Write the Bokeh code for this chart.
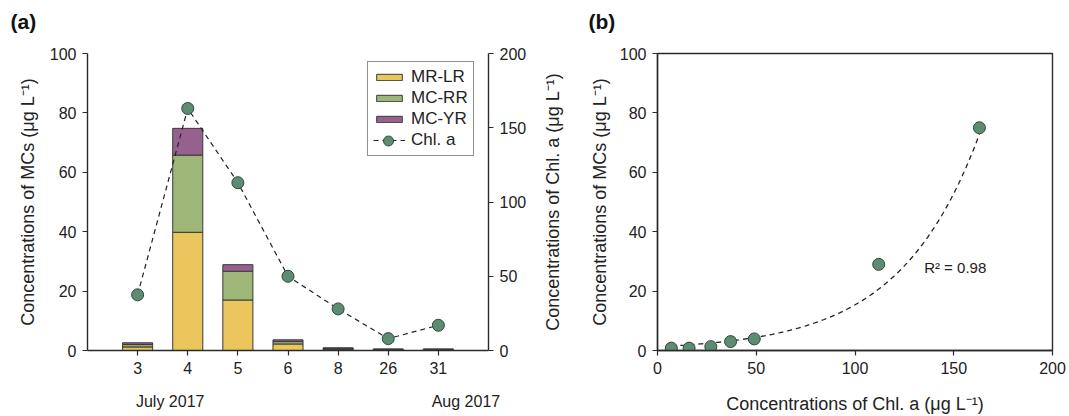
import math
import numpy as np
from bokeh.plotting import figure
from bokeh.models import (Range1d, LinearAxis, FixedTicker, Legend, LegendItem,
                          Label, Title, ColumnDataSource)
from bokeh.layouts import row
from bokeh.embed import file_html
from bokeh.resources import INLINE

# ---------------- data ----------------
dates = ["3", "4", "5", "6", "8", "26", "31"]
mc_lr = [1.2, 39.8, 17.0, 2.2, 0.4, 0.2, 0.2]
mc_rr = [0.8, 26.0, 9.7, 0.8, 0.3, 0.2, 0.2]
mc_yr = [0.6, 9.0, 2.2, 0.6, 0.2, 0.1, 0.1]
chl_a = [37.5, 163.0, 113.0, 50.0, 28.0, 8.0, 17.0]
months = ["July 2017", "Aug 2017"]
month_pos = [1.65, 7.55]
series_names = ["MR-LR", "MC-RR", "MC-YR"]

scatter_chl = [7, 16, 27, 37, 49, 112, 163]
scatter_mc = [0.8, 0.8, 1.3, 3.0, 3.9, 29.0, 75.0]
fit_a, fit_b = 1.3, 0.0247
r2_text = "R² = 0.98"

# ---------------- style ----------------
FONT = "Liberation Sans"
TXT = "#222222"
AX = "#2b2b2b"
C_LR, C_RR, C_YR = "#EAC65C", "#9EB677", "#96618F"
C_PT, C_PT_LINE = "#5E8B74", "#2E4A3C"


def style_axis(ax, label_standoff):
    ax.axis_line_color = AX
    ax.axis_line_width = 1.4
    ax.major_tick_line_color = AX
    ax.major_tick_line_width = 1.2
    ax.major_tick_out = 5
    ax.major_tick_in = 0
    ax.minor_tick_line_color = None
    ax.major_label_text_font = FONT
    ax.major_label_text_font_size = "16px"
    ax.major_label_text_color = TXT
    ax.major_label_standoff = 6
    ax.axis_label_text_font = FONT
    ax.axis_label_text_font_size = "18px"
    ax.axis_label_text_font_style = "normal"
    ax.axis_label_text_color = TXT
    ax.axis_label_standoff = label_standoff


def bare_axis(ax):
    ax.axis_line_color = None
    ax.major_tick_line_color = None
    ax.minor_tick_line_color = None


def panel_tag(p, text, offset):
    # tag as the plot title, with a blank spacer title between it and the frame
    p.title.text = text
    p.title.align = "left"
    p.title.offset = offset
    p.title.standoff = 0
    p.title.text_font = FONT
    p.title.text_font_size = "21px"
    p.title.text_font_style = "bold"
    p.title.text_color = "#111111"
    spacer = Title(text=" ", standoff=0, text_font=FONT, text_font_size="17px")
    p.add_layout(spacer, "above")


# ---------------- panel (a) ----------------
xs = list(range(1, len(dates) + 1))
src = ColumnDataSource(dict(x=xs, lr=mc_lr, rr=mc_rr, yr=mc_yr))

pa = figure(width=537, height=416, x_range=Range1d(0, 8), y_range=Range1d(0, 100),
            output_backend="svg", toolbar_location=None,
            min_border_left=87, min_border_right=49, min_border_top=53,
            min_border_bottom=64)
pa.extra_y_ranges = {"chl": Range1d(0, 200)}
pa.xgrid.visible = False
pa.ygrid.visible = False
pa.outline_line_color = None
panel_tag(pa, "(a)", -77)

bars = pa.vbar_stack(["lr", "rr", "yr"], x="x", width=0.6, source=src,
                     fill_color=[C_LR, C_RR, C_YR], line_color="#3a3a3a",
                     line_width=1)
chl_line = pa.line(xs, chl_a, y_range_name="chl", line_dash="5 4",
                   line_color="#222222", line_width=1.2)
chl_pts = pa.scatter(xs, chl_a, y_range_name="chl", size=12, fill_color=C_PT,
                     line_color=C_PT_LINE, line_width=1)

pa.xaxis.ticker = FixedTicker(ticks=xs)
pa.xaxis.major_label_overrides = {x: d for x, d in zip(xs, dates)}
pa.yaxis.ticker = FixedTicker(ticks=[0, 20, 40, 60, 80, 100])
pa.yaxis.axis_label = "Concentrations of MCs (μg L⁻¹)"
style_axis(pa.xaxis[0], 0)
style_axis(pa.yaxis[0], 9)

right_ax = LinearAxis(y_range_name="chl", ticker=FixedTicker(ticks=[0, 50, 100, 150, 200]))
style_axis(right_ax, 12)
pa.add_layout(right_ax, "right")

# month captions: a second, bare date axis under the first one
month_ax = LinearAxis(ticker=FixedTicker(ticks=month_pos),
                      major_label_overrides={m_x: m for m_x, m in zip(month_pos, months)})
style_axis(month_ax, 0)
bare_axis(month_ax)
month_ax.major_tick_out = 0
month_ax.major_label_standoff = 16
pa.add_layout(month_ax, "below")

# legend (bars + dashed line), with a second legend overlaying the marker
leg_a = Legend(items=[LegendItem(label=n, renderers=[r]) for n, r in zip(series_names, bars)]
                     + [LegendItem(label="Chl. a", renderers=[chl_line])],
               location=(280, 194), glyph_width=32, glyph_height=8,
               label_height=18, label_standoff=6, spacing=1, padding=5,
               label_text_font=FONT, label_text_font_size="17px",
               label_text_color=TXT, border_line_color="#222222",
               border_line_width=1.2, background_fill_color="white",
               background_fill_alpha=1.0, margin=0)
pa.add_layout(leg_a, "center")
leg_b = Legend(items=[LegendItem(label=" ", renderers=[chl_pts])],
               location=(285, 197), glyph_width=32, glyph_height=25,
               label_height=10, label_width=1, label_standoff=0, spacing=0, padding=0,
               label_text_font_size="1px", border_line_color=None,
               background_fill_alpha=0.0, margin=0)
pa.add_layout(leg_b, "center")

# ---------------- panel (b) ----------------
pb = figure(width=532, height=416, x_range=Range1d(0, 200), y_range=Range1d(0, 100),
            output_backend="svg", toolbar_location=None,
            min_border_left=120, min_border_right=17, min_border_top=53,
            min_border_bottom=64)
pb.xgrid.visible = False
pb.ygrid.visible = False
pb.outline_line_color = AX
pb.outline_line_width = 1.4
panel_tag(pb, "(b)", -69)

fx = np.linspace(min(scatter_chl), max(scatter_chl), 120)
pb.line(fx, fit_a * np.exp(fit_b * fx), line_dash="5 4", line_color="#222222",
        line_width=1.3)
pb.scatter(scatter_chl, scatter_mc, size=12, fill_color=C_PT, line_color=C_PT_LINE,
           line_width=1)

pb.xaxis.ticker = FixedTicker(ticks=[0, 50, 100, 150, 200])
pb.yaxis.ticker = FixedTicker(ticks=[0, 20, 40, 60, 80, 100])
pb.xaxis.axis_label = "Concentrations of Chl. a (μg L⁻¹)"
pb.yaxis.axis_label = "Concentrations of MCs (μg L⁻¹)"
style_axis(pb.xaxis[0], 17)
style_axis(pb.yaxis[0], 7)

# title of panel (a)'s right-hand Chl. a axis, reading bottom to top
chl_title_ax = LinearAxis(ticker=FixedTicker(ticks=[]),
                          axis_label="Concentrations of Chl. a (μg L⁻¹)")
style_axis(chl_title_ax, 24)
bare_axis(chl_title_ax)
chl_title_ax.major_tick_out = 0
chl_title_ax.major_label_standoff = 0
pb.add_layout(chl_title_ax, "left")

pb.add_layout(Label(x=135, y=28, text=r2_text, text_align="left",
                    text_baseline="middle", text_font=FONT, text_font_size="15px",
                    text_color=TXT))

layout = row(pa, pb)
open("out.html", "w").write(file_html(layout, INLINE))
